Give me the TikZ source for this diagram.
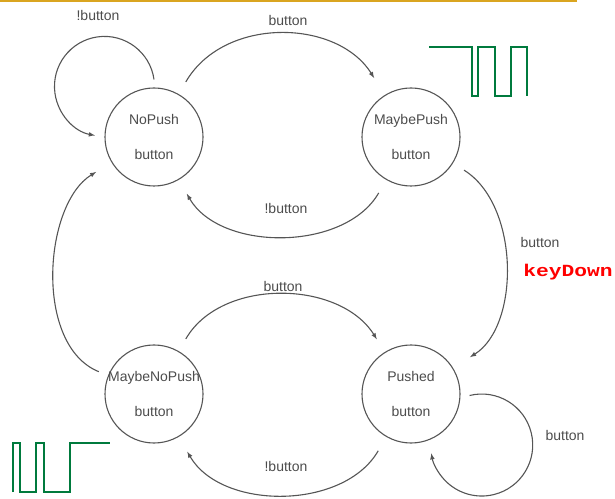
\documentclass[tikz,border=0pt]{standalone}
\usepackage{fontspec}
\setmainfont{Liberation Sans}
\newfontfamily\keyfont[FakeStretch=1.25]{Liberation Mono}
\usetikzlibrary{arrows}
\definecolor{wavegreen}{RGB}{0,122,61}
\definecolor{topgold}{RGB}{218,165,32}
\definecolor{inkgray}{RGB}{85,85,85}

\begin{document}
\begin{tikzpicture}[x=1pt,y=1pt,
state/.style={circle,draw=inkgray,line width=1.1pt,minimum size=98pt,inner sep=0pt,
  align=center,font=\fontsize{14}{35}\selectfont,text=black!70},
lbl/.style={font=\fontsize{14}{16}\selectfont,text=black!70},
keylbl/.style={font=\keyfont\bfseries\fontsize{17}{19}\selectfont,text=red},
trans/.style={draw=inkgray,line width=1.1pt,-latex},
wave/.style={draw=wavegreen,line width=2.4pt}]
\useasboundingbox (0,0) rectangle (615,498);
\draw[topgold,line width=2.5pt] (0,497) -- (577,497);

% states
\path
(154,361) node[state] (np) {NoPush\\button}
+(257,0)  node[state] (mp) {MaybePush\\button}
(154,104) node[state] (mnp) {\makebox[0pt]{MaybeNoPush}\\button}
+(257,0)  node[state] (p) {Pushed\\button}
;

% transitions
\draw[trans] ([shift={(0,8)}]np.90) arc[start angle=8,end angle=259,radius=50];
\draw[trans,shorten <=14pt,shorten >=20pt] (np.60) to[out=60,in=122,distance=90pt] (mp.122);
\draw[trans,shorten <=15pt,shorten >=16pt] (mp.240) to[out=240,in=300,distance=83pt] (np.300);
\draw[trans,shorten <=13pt,shorten >=20pt] (mp.-32) to[out=-32,in=32,distance=79pt] (p.32);
\draw[trans,shorten <=10pt,shorten >=18pt] (mnp.158) to[out=158,in=211.5,distance=80pt] (np.211.5);
\draw[trans,shorten <=14pt,shorten >=15pt] (mnp.60) to[out=60,in=122,distance=85pt] (p.122);
\draw[trans,shorten <=16pt,shorten >=17pt] (p.240) to[out=240,in=300,distance=85pt] (mnp.300);
\draw[trans] ([shift={(9,-1.5)}]p.0) arc[start angle=103.8,end angle=-170.7,radius=51];

% labels
\path
(98,482)  node[lbl] (nploop) {!button}
(288,477) node[lbl] (npmp) {button}
(286,290) node[lbl] (mpnp) {!button}
(540,256) node[lbl] (mpp) {button}
(568,226) node[keylbl] (kd) {keyDown}
(283,212) node[lbl] (mnpp) {button}
(286,32)  node[lbl] (pmnp) {!button}
(565,63)  node[lbl] (ploop) {button}
;

% signal sketches
\draw[wave] (429,451) -- (472,451) -- (472,402) -- (478,402) -- (478,451) -- (495,451)
  -- (495,402) -- (511,402) -- (511,451) -- (527,451) -- (527,402);
\draw[wave] (13,6) -- (13,55) -- (20,55) -- (20,6) -- (36,6) -- (36,55) -- (44,55)
  -- (44,6) -- (70,6) -- (70,55) -- (110,55);
\end{tikzpicture}
\end{document}
